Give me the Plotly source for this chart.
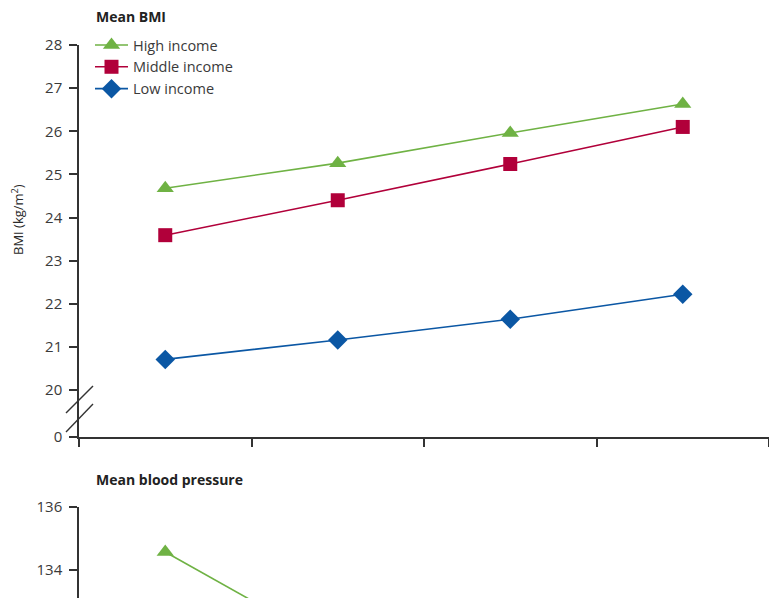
import plotly.graph_objects as go

# Time periods (x positions of the four survey waves)
periods = ["P1", "P2", "P3", "P4"]

# Mean BMI (kg/m2) by country income group
bmi_high = [24.68, 25.26, 25.96, 26.63]
bmi_middle = [23.59, 24.40, 25.24, 26.10]
bmi_low = [20.71, 21.16, 21.64, 22.22]

# Mean systolic blood pressure (mm Hg), high-income group
bp_high = [134.57, 131.5]
bp_periods = ["P1", "P2"]

# Axis ticks: the BMI axis is broken between 0 and 20
bmi_ticks = [20, 21, 22, 23, 24, 25, 26, 27, 28]
zero_pos = 18.91  # where the "0" of the broken axis is drawn
bp_ticks = [134, 136]

GREEN = "#6fb244"
RED = "#b1003a"
BLUE = "#0b57a4"
AXIS = "#333333"
TEXT = "#3a3a3a"
FONT = "Open Sans"

W, H = 769, 598
L = 79

fig = go.Figure()

series = [
    ("High income", bmi_high, GREEN, "triangle-up", 15),
    ("Middle income", bmi_middle, RED, "square", 14),
    ("Low income", bmi_low, BLUE, "diamond", 15),
]
for name, vals, col, sym, sz in series:
    fig.add_trace(go.Scatter(
        x=periods, y=vals, name=name, mode="lines+markers",
        line=dict(color=col, width=1.6),
        marker=dict(symbol=sym, size=sz, color=col, line=dict(width=0)),
        xaxis="x", yaxis="y",
    ))

fig.add_trace(go.Scatter(
    x=bp_periods, y=bp_high, name="High income", mode="lines+markers",
    line=dict(color=GREEN, width=1.6),
    marker=dict(symbol="triangle-up", size=15, color=GREEN),
    xaxis="x2", yaxis="y2", showlegend=False, cliponaxis=True,
))

def py(px):
    """pixel row -> paper fraction"""
    return 1 - px / H

def px_x(x):
    """pixel column -> paper fraction"""
    return (x - L) / (W - L)

top_y0, top_y1 = 437, 45
bot_y1 = 507

fig.update_layout(
    template="none",
    width=W, height=H,
    margin=dict(l=L, r=0, t=0, b=0, pad=0),
    plot_bgcolor="white", paper_bgcolor="white",
    font=dict(family=FONT, size=13, color=TEXT),
    showlegend=True,
    legend=dict(
        x=px_x(90), y=py(29), xanchor="left", yanchor="top",
        bgcolor="rgba(0,0,0,0)", borderwidth=0,
        font=dict(family=FONT, size=14.5, color=TEXT),
        tracegroupgap=0, itemwidth=33,
    ),
    xaxis=dict(
        domain=[0, 1], type="category", categoryorder="array", categoryarray=periods,
        range=[-0.5, 3.5], showgrid=False, zeroline=False, automargin=False,
        showline=True, linecolor=AXIS, linewidth=1.5,
        ticks="outside", tickson="boundaries", ticklen=8, tickwidth=1.5, tickcolor=AXIS,
        showticklabels=False, anchor="y",
    ),
    yaxis=dict(
        domain=[py(top_y0), py(top_y1)], automargin=False,
        range=[zero_pos, 28], showgrid=False, zeroline=False,
        showline=True, linecolor=AXIS, linewidth=1.5,
        ticks="outside", ticklen=8, tickwidth=1.5, tickcolor=AXIS,
        ticklabelstandoff=4,
        tickvals=[zero_pos] + bmi_ticks,
        ticktext=["0"] + [str(t) for t in bmi_ticks],
        tickfont=dict(family=FONT, size=15, color=TEXT),
        anchor="x",
    ),
    xaxis2=dict(
        domain=[0, 1], type="category", categoryorder="array", categoryarray=periods,
        range=[-0.5, 3.5], showgrid=False, zeroline=False, showline=False,
        showticklabels=False, ticks="", automargin=False, anchor="y2",
    ),
    yaxis2=dict(
        domain=[0, py(bot_y1)], automargin=False,
        range=[136 - (H - bot_y1) / 31.5, 136], showgrid=False, zeroline=False,
        showline=True, linecolor=AXIS, linewidth=1.5,
        ticks="outside", ticklen=8, tickwidth=1.5, tickcolor=AXIS,
        ticklabelstandoff=4,
        tickvals=bp_ticks, ticktext=[str(t) for t in bp_ticks],
        tickfont=dict(family=FONT, size=15, color=TEXT),
        anchor="x2",
    ),
)

# Panel titles and axis title
fig.add_annotation(text="<b>Mean BMI</b>", xref="paper", yref="paper",
                   x=px_x(94), y=py(17), xanchor="left", yanchor="middle",
                   showarrow=False, font=dict(family=FONT, size=14, color="#222"))
fig.add_annotation(text="<b>Mean blood pressure</b>", xref="paper", yref="paper",
                   x=px_x(94), y=py(479), xanchor="left", yanchor="middle",
                   showarrow=False, font=dict(family=FONT, size=14, color="#222"))
fig.add_annotation(text="BMI (kg/m<sup>2</sup>)", xref="paper", yref="paper",
                   x=px_x(17), y=py(220), xanchor="center", yanchor="middle",
                   textangle=-90, showarrow=False,
                   font=dict(family=FONT, size=13, color="#2a2a2a"))

# Axis-break marks on the BMI axis
for (x0, y0, x1, y1) in [(66, 413, 93, 386), (66, 432, 93, 404)]:
    fig.add_shape(type="line", xref="paper", yref="paper",
                  x0=px_x(x0), y0=py(y0), x1=px_x(x1), y1=py(y1),
                  line=dict(color=AXIS, width=1.4))

fig.write_html("out.html")
